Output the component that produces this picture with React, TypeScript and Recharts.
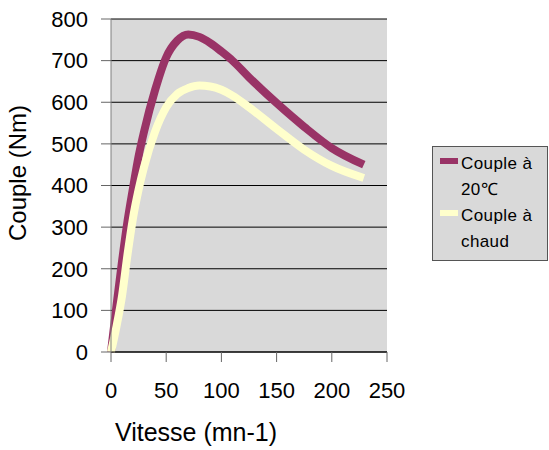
import { LineChart, Line, XAxis, YAxis, CartesianGrid, Label } from 'recharts'

const vitesse = [0, 5, 10, 15, 20, 25, 30, 40, 50, 60, 70, 80, 90, 100, 110, 125, 150, 175, 200, 229]
const couple20 = [0, 112, 218, 315, 395, 470, 530, 630, 708, 748, 763, 757, 742, 722, 700, 660, 598, 541, 490, 450]
const coupleChaud = [0, 62, 135, 235, 323, 390, 445, 530, 588, 620, 634, 640, 638, 630, 616, 588, 536, 486, 447, 418]

const xTicks = [0, 50, 100, 150, 200, 250]
const yTicks = [0, 100, 200, 300, 400, 500, 600, 700, 800]

const SERIES = [
  { key: 'c20', lines: ['Couple à', '20℃'], name: 'Couple à 20℃', color: '#993366' },
  { key: 'chaud', lines: ['Couple à', 'chaud'], name: 'Couple à chaud', color: '#ffffcc' },
]

const data = vitesse.map((v, i) => ({ v, c20: couple20[i], chaud: coupleChaud[i] }))

const FONT = 'Arial, "Liberation Sans", sans-serif'

function LegendBox() {
  return (
    <div
      style={{
        position: 'absolute',
        left: 432,
        top: 146,
        width: 116,
        height: 115,
        background: '#d9d9d9',
        border: '1px solid #555',
        fontFamily: FONT,
        fontSize: 17,
        letterSpacing: 0.4,
        color: '#000',
        boxSizing: 'border-box',
        paddingTop: 5,
      }}
    >
      {SERIES.map((s) => (
        <div key={s.key} style={{ display: 'flex', marginBottom: 1 }}>
          <span
            style={{
              width: 18,
              height: 6,
              background: s.color,
              marginLeft: 7,
              marginTop: 6,
              marginRight: 3,
              flexShrink: 0,
            }}
          />
          <span style={{ lineHeight: '26px', marginTop: -1 }}>
            {s.lines[0]}
            <br />
            {s.lines[1]}
          </span>
        </div>
      ))}
    </div>
  )
}

export default function App() {
  return (
    <div style={{ position: 'absolute', left: 0, top: 0, width: 549, height: 450, background: '#fff' }}>
      <LineChart
        width={549}
        height={450}
        data={data}
        margin={{ top: 19, right: 162, bottom: 0, left: 0 }}
      >
        <CartesianGrid vertical={false} stroke="#000" fill="#d9d9d9" strokeOpacity={1} />
        <XAxis
          dataKey="v"
          type="number"
          domain={[0, 250]}
          ticks={xTicks}
          interval={0}
          tickSize={10}
          tickMargin={20}
          height={98}
          stroke="#000"
          tickLine={{ stroke: '#666' }}
          tick={{ fill: '#000', fontSize: 22, fontFamily: FONT }}
        >
          <Label
            content={() => (
              <text x={196} y={441} textAnchor="middle" fontSize={25} fontFamily={FONT} fill="#000">
                Vitesse (mn-1)
              </text>
            )}
          />
        </XAxis>
        <YAxis
          type="number"
          domain={[0, 800]}
          ticks={yTicks}
          interval={0}
          tickSize={10}
          tickMargin={13}
          width={111}
          stroke="#808080"
          tickLine={{ stroke: '#666' }}
          tick={{ fill: '#000', fontSize: 22, fontFamily: FONT }}
        >
          <Label
            content={() => (
              <text
                x={26}
                y={173}
                textAnchor="middle"
                fontSize={24}
                fontFamily={FONT}
                fill="#000"
                transform="rotate(-90 26 173)"
              >
                Couple (Nm)
              </text>
            )}
          />
        </YAxis>
        {SERIES.map((s) => (
          <Line
            key={s.key}
            dataKey={s.key}
            name={s.name}
            type="monotone"
            stroke={s.color}
            strokeWidth={8}
            dot={false}
            isAnimationActive={false}
          />
        ))}
      </LineChart>
      <LegendBox />
    </div>
  )
}
